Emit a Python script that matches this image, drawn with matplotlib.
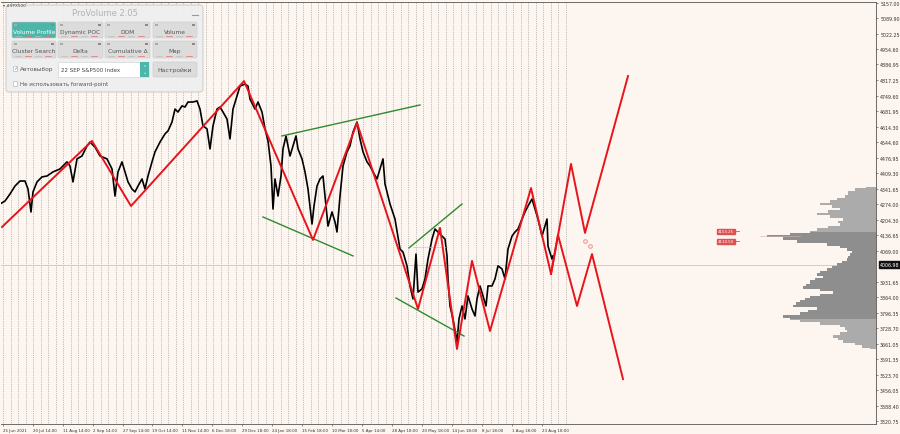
import matplotlib
matplotlib.use("Agg")
import matplotlib.pyplot as plt
from matplotlib.patches import FancyBboxPatch, Rectangle
import numpy as np

# ---- data (bar index / price) ----
bars = [0, 5, 10, 15, 20, 25, 28, 31, 33, 37, 42, 47, 53, 60, 67, 70, 73, 77, 82, 87,
        90, 95, 100, 107, 112, 115, 118, 122, 125, 128, 132, 135, 138, 142, 145, 148, 152, 155, 160, 165,
        168, 172, 175, 178, 182, 185, 188, 193, 197, 200, 203, 207, 210, 213, 217, 220, 223, 227, 230, 233,
        237, 240, 245, 248, 250, 255, 258, 262, 265, 268, 271, 273, 275, 278, 281, 283, 286, 290, 293, 296,
        298, 302, 305, 308, 312, 314, 317, 320, 323, 326, 328, 332, 335, 337, 340, 343, 347, 350, 353, 357,
        360, 363, 367, 370, 373, 377, 380, 383, 385, 390, 395, 400, 403, 407, 410, 413, 416, 418, 422, 425,
        428, 432, 435, 438, 442, 445, 447, 448, 450, 453, 457, 459, 462, 465, 468, 472, 475, 477, 480, 483,
        486, 488, 492, 495, 498, 502, 505, 508, 512, 515, 518, 522, 525, 528, 532, 535, 538, 542, 545, 547,
        548, 552, 553]
closes = [4274, 4287, 4318, 4353, 4375, 4375, 4340, 4239, 4327, 4371, 4393, 4397, 4415, 4428, 4459, 4441, 4371, 4472, 4485, 4529,
          4546, 4524, 4485, 4472, 4428, 4309, 4415, 4459, 4415, 4371, 4340, 4327, 4353, 4384, 4340, 4397, 4459, 4503, 4546, 4582,
          4595, 4634, 4691, 4678, 4705, 4700, 4722, 4722, 4727, 4691, 4617, 4604, 4516, 4617, 4691, 4700, 4678, 4647, 4560, 4691,
          4748, 4792, 4801, 4792, 4735, 4691, 4722, 4678, 4604, 4551, 4441, 4252, 4384, 4309, 4397, 4516, 4573, 4485, 4529, 4573,
          4516, 4472, 4415, 4340, 4186, 4265, 4353, 4384, 4397, 4265, 4177, 4239, 4195, 4151, 4309, 4441, 4503, 4529, 4590, 4634,
          4560, 4503, 4459, 4441, 4415, 4384, 4428, 4472, 4362, 4274, 4208, 4076, 4063, 4002, 3914, 3857, 4054, 3887, 3901, 3945,
          4032, 4120, 4164, 4151, 4133, 4120, 4046, 3945, 3826, 3769, 3668, 3769, 3826, 3769, 3870, 3813, 3782, 3857, 3914, 3870,
          3826, 3914, 3914, 3945, 4002, 3989, 3945, 4076, 4133, 4151, 4164, 4208, 4239, 4265, 4296, 4252, 4208, 4133, 4177, 4208,
          4089, 4032, 4046]

zz_bars = [2, 92, 131, 244, 313, 357, 418, 440, 457, 472, 490, 531, 551]
zz_prices = [4173, 4551, 4265, 4814, 4116, 4630, 3813, 4169, 3637, 4024, 3716, 4344, 3967]

projA_bars = [551, 571, 585, 628]
projA_prices = [3967, 4450, 4147, 4836]
projB_bars = [551, 558, 577, 592, 623]
projB_prices = [3967, 4138, 3826, 4054, 3505]

channels = [((282, 4573), (420, 4709)),
            ((263, 4217), (353, 4046)),
            ((409, 4081), (462, 4274)),
            ((396, 3861), (464, 3694))]

profile_prices = [4349, 4336, 4322, 4309, 4296, 4283, 4274, 4261, 4252, 4239, 4230, 4217, 4208, 4195, 4186,
                  4173, 4164, 4151, 4142, 4133, 4125, 4111, 4098, 4085, 4076, 4063, 4054, 4041, 4032, 4019,
                  4010, 3997, 3988, 3975, 3966, 3953, 3945, 3931, 3918, 3909, 3896, 3887, 3874, 3866, 3857,
                  3848, 3835, 3826, 3813, 3804, 3791, 3778, 3769, 3760, 3747, 3738, 3725, 3716, 3703, 3694,
                  3681, 3672, 3659, 3650, 3637]
profile_vol = [10, 21, 28, 31, 39, 46, 56, 44, 36, 48, 59, 46, 33, 38, 36,
               48, 59, 66, 86, 109, 93, 79, 49, 36, 29, 24, 26, 28, 29, 34,
               39, 44, 49, 56, 59, 53, 61, 66, 70, 73, 56, 43, 56, 66, 71,
               76, 80, 83, 59, 68, 76, 93, 86, 76, 56, 36, 31, 29, 36, 43,
               38, 33, 21, 14, 6]
value_area = (3769, 4160)

level_prices = [4153.25, 4110.50]
current_price = 4006.98

y_ticks = [5157.00, 5089.90, 5022.25, 4954.60, 4886.95, 4817.25, 4749.60, 4681.95, 4614.30,
           4544.60, 4476.95, 4409.30, 4341.65, 4274.00, 4204.30, 4136.65, 4069.00, 3931.65,
           3864.00, 3796.35, 3728.70, 3661.05, 3591.35, 3523.70, 3456.05, 3388.40, 3320.75]

date_ticks = [3, 33, 63, 93, 123, 152, 182, 212, 242, 272, 302, 332, 362, 392, 422, 452, 482, 512, 542]
date_labels = ["25 Jun 2021", "20 Jul 14:00", "11 Aug 14:00", "2 Sep 14:00", "27 Sep 14:00",
               "19 Oct 14:00", "11 Nov 14:00", "6 Dec 18:00", "29 Dec 18:00", "24 Jan 18:00",
               "15 Feb 18:00", "10 Mar 18:00", "5 Apr 14:00", "28 Apr 18:00", "20 May 18:00",
               "14 Jun 18:00", "8 Jul 18:00", "1 Aug 18:00", "23 Aug 18:00"]

BG = '#fdf5ef'
RED = '#e8141c'
GREEN = '#2f8a2f'

fig = plt.figure(figsize=(9, 4.35), dpi=100, facecolor=BG)
ax = fig.add_axes([1 / 900, 10 / 435, 875 / 900, 422 / 435], facecolor=BG)
ax.set_xlim(1, 876)
ax.set_ylim(3307.5, 5161.4)

# dotted vertical grid over the history part
for gx in np.arange(3, 566, 7.5):
    ax.axvline(gx, color='#8c8c8c', lw=0.5, ls=(0, (1, 1.6)), zorder=1)

ax.axhline(current_price, color='#c9c4c0', lw=0.6, zorder=1)

# volume profile anchored at right edge
xr = ax.get_xlim()[1]
pp = np.array(profile_prices)
vol = np.array(profile_vol)
in_va = (pp >= value_area[0]) & (pp <= value_area[1])
ax.fill_betweenx(pp, xr - vol, xr, step='mid', color='#ababab', lw=0, zorder=2)
ax.fill_betweenx(pp, xr - vol, xr, where=in_va, step='mid', color='#8e8e8e', lw=0, zorder=2)
ax.plot([760, 800], [4133, 4133], color='#d8b0b0', lw=0.4, zorder=2)

# price
ax.plot(bars, closes, color='black', lw=1.2, zorder=3)

# channels
for (b0, p0), (b1, p1) in channels:
    ax.plot([b0, b1], [p0, p1], color=GREEN, lw=1.0, zorder=4)

ax.plot([413, 447], [4085, 4085], color='#e8a0a0', lw=0.6, ls=(0, (1, 1)), zorder=4)

# zigzag and projections
ax.plot(zz_bars, zz_prices, color=RED, lw=1.4, zorder=5)
ax.plot(projA_bars, projA_prices, color=RED, lw=1.4, zorder=5)
ax.plot(projB_bars, projB_prices, color=RED, lw=1.4, zorder=5)
ax.plot([585, 590], [4111, 4089], ls='none', marker='o', ms=2.6, mfc='none', mec='#f09a9a', mew=0.8, zorder=5)

# level labels
for lp in level_prices:
    ax.text(718, lp, f"{lp:.2f}", fontsize=2.8, color='white', va='center', ha='left', zorder=6,
            bbox=dict(boxstyle='square,pad=0.15', fc='#e05050', ec='#e05050'))
    ax.plot([734, 739], [lp, lp], color='#e05050', lw=0.6, zorder=6)

# axes styling
ax.spines['left'].set_visible(False)
for s in ['top', 'right', 'bottom']:
    ax.spines[s].set_color('#555555')
    ax.spines[s].set_linewidth(0.6)
ax.yaxis.tick_right()
ax.set_yticks(y_ticks)
ax.set_yticklabels([f"{v:.2f}" for v in y_ticks])
ax.tick_params(axis='y', labelsize=3.4, length=1.5, width=0.4, pad=1.5, colors='#333333')
ax.set_xticks(date_ticks)
ax.set_xticklabels(date_labels)
for lab in ax.get_xticklabels():
    lab.set_horizontalalignment('left')
ax.tick_params(axis='x', labelsize=2.9, length=1.5, width=0.4, pad=1.5, colors='#333333')
ax.text(1.004, current_price, f"{current_price:.2f}", transform=ax.get_yaxis_transform(),
        fontsize=3.4, color='white', va='center', ha='left',
        bbox=dict(boxstyle='square,pad=0.2', fc='#111111', ec='#111111'))

# ---- ProVolume panel overlay (pixel coords) ----
pax = fig.add_axes([0, 0, 1, 1], facecolor='none')
pax.set_xlim(0, 900)
pax.set_ylim(435, 0)
pax.axis('off')

pax.text(3, 6, "▾ #SPX500", fontsize=3, color='#444444', va='center')
pax.add_patch(FancyBboxPatch((6, 6), 197, 87, boxstyle='round,pad=0,rounding_size=3',
                             fc='#efefef', ec='#c4c4c4', lw=0.6, alpha=0.97))
pax.text(105, 13.5, "ProVolume 2.05", fontsize=6, color='#b2b2b2', ha='center', va='center')
pax.plot([192, 198], [16, 16], color='#999999', lw=0.8)

buttons = [["Volume Profile", "Dynamic POC", "DOM", "Volume"],
           ["Cluster Search", "Delta", "Cumulative Δ", "Map"]]
cols = [(12, 56), (58, 103), (105, 150), (153, 197)]
rows = [(23, 39), (42, 59)]
for r, (y0, y1) in enumerate(rows):
    for c, (x0, x1) in enumerate(cols):
        active = (r == 0 and c == 0)
        fc = '#4db6ab' if active else '#dcdcdc'
        pax.add_patch(FancyBboxPatch((x0, y0), x1 - x0, y1 - y0, boxstyle='round,pad=0,rounding_size=1.5',
                                     fc=fc, ec='#c8c8c8', lw=0.4))
        pax.text((x0 + x1) / 2, y0 + 9.5, buttons[r][c], fontsize=4.2,
                 color='white' if active else '#555555', ha='center', va='center')
        pax.add_patch(Rectangle((x0 + 2, y0 + 1.5), 3, 2, fc='#aaaaaa', ec='none'))
        pax.add_patch(Rectangle((x1 - 5, y0 + 1.5), 3, 2, fc='#888888', ec='none'))
        for k in range(4):
            pax.plot([x0 + 3 + k * 10, x0 + 9 + k * 10], [y1 - 2.5, y1 - 2.5],
                     color='#e07070' if k % 2 else '#bbbbbb', lw=0.5)

pax.add_patch(Rectangle((12.5, 67), 4.5, 4.5, fc='white', ec='#aaaaaa', lw=0.4))
pax.text(13, 68.5, "✓", fontsize=4, color='#4db6ab', va='center')
pax.text(20, 70, "Автовыбор", fontsize=4.2, color='#555555', va='center')
pax.add_patch(Rectangle((58, 63), 91, 15, fc='white', ec='#cccccc', lw=0.4))
pax.add_patch(Rectangle((140, 63), 9, 15, fc='#4db6ab', ec='none'))
pax.text(145, 68, "⌃", fontsize=3.5, color='white', ha='center', va='center')
pax.text(145, 73, "⌄", fontsize=3.5, color='white', ha='center', va='center')
pax.text(61, 70.5, "22 SEP S&P500 Index", fontsize=4, color='#444444', va='center')
pax.add_patch(FancyBboxPatch((153, 63), 44, 15, boxstyle='round,pad=0,rounding_size=1.5',
                             fc='#dcdcdc', ec='#c8c8c8', lw=0.4))
pax.text(175, 70.5, "Настройки", fontsize=4.4, color='#555555', ha='center', va='center')
pax.add_patch(Rectangle((12.5, 82), 4.5, 4.5, fc='white', ec='#aaaaaa', lw=0.4))
pax.text(20, 84.5, "Не использовать forward-point", fontsize=4, color='#555555', va='center')

fig.savefig("out.png", dpi=100, facecolor=BG)
